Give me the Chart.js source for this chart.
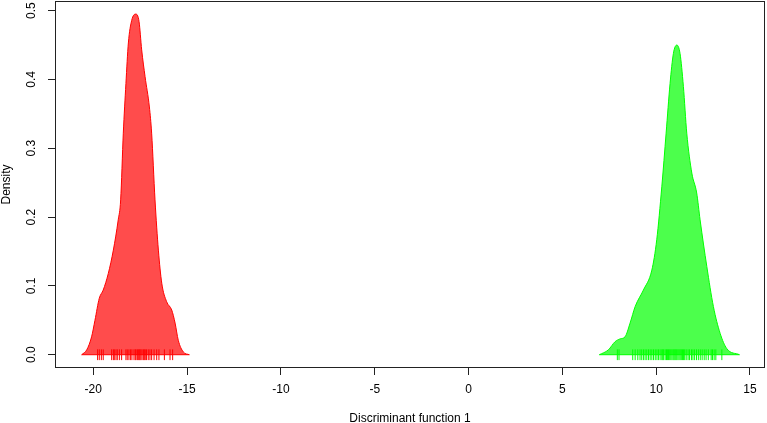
<!DOCTYPE html>
<html>
<head>
<meta charset="utf-8">
<script src="https://cdn.jsdelivr.net/npm/chart.js@4"></script>
<style>
  body { margin: 0; background: #fff; }
  canvas { display: block; }
</style>
</head>
<body>
<canvas id="densChart" width="767" height="423"></canvas>
<script>
// densités par groupe
const redX = [-20.62, -20.35, -20.09, -19.91, -19.68, -19.47, -19.2, -18.93, -18.67, -18.54, -18.40, -18.26, -18.13, -17.95, -17.74, -17.56, -17.42, -17.24, -17.01, -16.89, -16.71, -16.53, -16.35, -16.09, -15.82, -15.64, -15.47, -15.2, -14.88];
const redY = [0, 0.007, 0.026, 0.05, 0.082, 0.094, 0.118, 0.152, 0.196, 0.225, 0.322, 0.394, 0.453, 0.486, 0.495, 0.484, 0.443, 0.404, 0.36, 0.322, 0.225, 0.152, 0.104, 0.077, 0.065, 0.046, 0.021, 0.004, 0];

const greenX = [6.97, 7.45, 7.81, 8.08, 8.34, 8.61, 8.88, 9.32, 9.77, 10.03, 10.30, 10.53, 10.74, 10.92, 11.1, 11.27, 11.45, 11.63, 11.90, 12.16, 12.34, 12.70, 13.05, 13.41, 13.76, 14.44];
const greenY = [0, 0.007, 0.019, 0.023, 0.026, 0.046, 0.07, 0.094, 0.123, 0.167, 0.244, 0.322, 0.394, 0.438, 0.450, 0.438, 0.39, 0.322, 0.264, 0.235, 0.196, 0.128, 0.07, 0.031, 0.009, 0];

// observations (rug)
const redRug = [-19.77, -19.68, -19.57, -19.47, -19.02, -18.93, -18.88, -18.79, -18.72, -18.61, -18.49, -18.26, -18.19, -18.10, -18.01, -17.94, -17.83, -17.76, -17.72, -17.65, -17.60, -17.55, -17.51, -17.46, -17.40, -17.33, -17.28, -17.23, -17.16, -17.07, -16.98, -16.89, -16.76, -16.62, -16.50, -16.21, -15.91, -15.77];
const greenRug = [7.93, 8.02, 8.75, 8.88, 9.02, 9.14, 9.23, 9.32, 9.41, 9.50, 9.59, 9.68, 9.77, 9.86, 9.95, 10.04, 10.12, 10.21, 10.30, 10.35, 10.40, 10.48, 10.55, 10.60, 10.66, 10.72, 10.78, 10.84, 10.90, 10.95, 11.00, 11.05, 11.10, 11.16, 11.22, 11.28, 11.34, 11.40, 11.46, 11.52, 11.60, 11.70, 11.78, 11.88, 11.96, 12.05, 12.15, 12.25, 12.35, 12.45, 12.56, 12.66, 12.78, 12.93, 13.0, 13.09, 13.18, 13.5];

const xTicks = [-20, -15, -10, -5, 0, 5, 10, 15];
const yTicks = [0, 0.1, 0.2, 0.3, 0.4, 0.5];
const yTickLabels = ['0.0', '0.1', '0.2', '0.3', '0.4', '0.5'];

const FONT = "'Liberation Sans', Arial, sans-serif";

const toPts = (xs, ys) => xs.map((x, i) => ({ x, y: ys[i] }));
const basePts = xs => [{ x: xs[0], y: 0 }, { x: xs[xs.length - 1], y: 0 }];
const rugPts = xs => xs.map(x => ({ x, y: 0 }));

// cadre + étiquettes verticales de l'axe y (style R)
const boxPlugin = {
  id: 'box',
  afterDraw(chart) {
    const { ctx, chartArea: a } = chart;
    const ys = chart.scales.y;
    ctx.save();
    ctx.strokeStyle = '#222';
    ctx.lineWidth = 1;
    ctx.strokeRect(a.left + 0.5, a.top + 0.5, a.right - a.left - 1, a.bottom - a.top - 1);
    ctx.fillStyle = '#000';
    ctx.font = '12px ' + FONT;
    ctx.textAlign = 'center';
    ctx.textBaseline = 'middle';
    ys.ticks.forEach((t, i) => {
      ctx.save();
      ctx.translate(32, ys.getPixelForValue(t.value));
      ctx.rotate(-Math.PI / 2);
      ctx.fillText(yTickLabels[i], 0, 0);
      ctx.restore();
    });
    ctx.restore();
  }
};

const densityDs = (label, pts, line, fill) => ({
  label, data: pts, showLine: true, fill: 'origin',
  borderColor: line, backgroundColor: fill, borderWidth: 1,
  pointRadius: 0, cubicInterpolationMode: 'monotone', order: 3
});
const baseDs = (label, pts, line) => ({
  label, data: pts, showLine: true, fill: false,
  borderColor: line, borderWidth: 1, pointRadius: 0, order: 2
});
const rugDs = (label, pts, color) => ({
  label, data: pts, showLine: false,
  pointStyle: 'line', rotation: 90, pointRadius: 5.4,
  borderColor: color, borderWidth: 1, order: 1
});

const noPad = s => { s.paddingTop = 0; s.paddingBottom = 0; s.paddingLeft = 0; s.paddingRight = 0; };

new Chart(document.getElementById('densChart'), {
  type: 'scatter',
  data: {
    datasets: [
      densityDs('groupe 1', toPts(redX, redY), '#ff0000', 'rgba(255,0,0,0.7)'),
      densityDs('groupe 2', toPts(greenX, greenY), '#00ff00', 'rgba(0,255,0,0.7)'),
      baseDs('base 1', basePts(redX), '#ff0000'),
      baseDs('base 2', basePts(greenX), '#00ff00'),
      rugDs('rug 1', rugPts(redRug), '#ff0000'),
      rugDs('rug 2', rugPts(greenRug), '#00ff00')
    ]
  },
  options: {
    responsive: false,
    animation: false,
    layout: { autoPadding: false, padding: { top: 1, right: 2, left: 0, bottom: 0 } },
    plugins: { legend: { display: false }, tooltip: { enabled: false } },
    scales: {
      x: {
        type: 'linear', min: -22.04, max: 15.8,
        afterBuildTicks: s => { s.ticks = xTicks.map(v => ({ value: v })); },
        afterFit: s => { s.height = 55; noPad(s); },
        grid: { drawOnChartArea: false, drawTicks: true, tickLength: 7, color: '#222' },
        border: { display: false },
        ticks: { color: '#000', font: { family: FONT, size: 12 }, padding: 7, maxRotation: 0 },
        title: { display: true, text: 'Discriminant function 1', color: '#000', font: { family: FONT, size: 12 }, padding: { top: 0, bottom: -3 } }
      },
      y: {
        type: 'linear', min: -0.0193, max: 0.514,
        afterBuildTicks: s => { s.ticks = yTicks.map(v => ({ value: v })); },
        afterFit: s => { s.width = 55; noPad(s); },
        grid: { drawOnChartArea: false, drawTicks: true, tickLength: 7, color: '#222' },
        border: { display: false },
        ticks: { display: false },
        title: { display: true, text: 'Density', color: '#000', font: { family: FONT, size: 12 }, padding: { top: -1, bottom: 0 } }
      }
    }
  },
  plugins: [boxPlugin]
});
</script>
</body>
</html>
